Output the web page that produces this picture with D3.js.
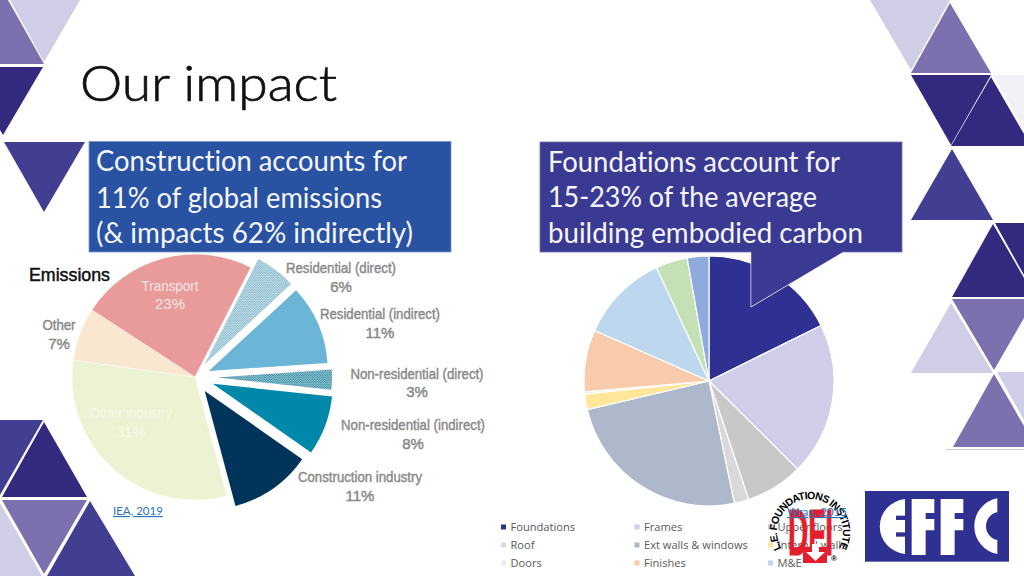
<!DOCTYPE html>
<html><head><meta charset="utf-8">
<script src="https://cdn.jsdelivr.net/npm/d3@7"></script>
<style>html,body{margin:0;padding:0;background:#fff;overflow:hidden}svg{display:block}text{font-variant-ligatures:none}</style>
</head><body><svg id="c" width="1024" height="576"></svg>
<script>
// ---- data ----
const emissionCategories = ["Residential (direct)","Residential (indirect)","Non-residential (direct)","Non-residential (indirect)","Construction industry","Other industry","Other","Transport"];
const emissionValues = [5.6,10.8,2.8,8,11.1,31.3,7,23.3];
const carbonCategories = ["Foundations","Frames","Upper floors","Roof","Ext walls & windows","Internal walls","Doors","Finishes","M&E","External works","Other"];
const carbonValues = [17.7,19.8,7.4,1.9,24.6,2.0,0.3,8.0,11.5,4.1,2.8];
const legendCategories = ["Foundations","Frames","Upper floors","Roof","Ext walls & windows","Internal walls","Doors","Finishes","M&E"];
const leftBoxLines = ["Construction accounts for","11% of global emissions","(& impacts 62% indirectly)"];
const rightBoxLines = ["Foundations account for","15-23% of the average","building embodied carbon"];

// ---- layout / style ----
const svg = d3.select("#c");
const defs = svg.append("defs");
function dots(id,bg,fg,size){
  const p = defs.append("pattern").attr("id",id).attr("width",size).attr("height",size).attr("patternUnits","userSpaceOnUse");
  p.append("rect").attr("width",size).attr("height",size).attr("fill",bg);
  p.append("circle").attr("cx",size/4).attr("cy",size/4).attr("r",size/3.8).attr("fill",fg);
  p.append("circle").attr("cx",size*3/4).attr("cy",size*3/4).attr("r",size/3.8).attr("fill",fg);
}
dots("hatchA","#cfe6ee","#6fa9c0",2.4);
dots("hatchB","#a8d3df","#0f6f8c",2.4);

const C = {light:"#d0cde6",med:"#7d70ae",dark:"#33297f",mid:"#423f92",pale:"#f1f1f8"};
const tris = [
 [C.med,[[0,0],[8,0],[44,64],[0,64]]],[C.light,[[10,0],[80,0],[44,62]]],
 [C.dark,[[0,67],[43,67],[3,135],[0,130]]],[C.mid,[[4,142],[85,142],[44,212]]],
 [C.mid,[[0,420],[43,420],[0,495]]],[C.dark,[[44,422],[2,497],[87,497]]],
 [C.med,[[2,500],[87,500],[44,574]]],[C.light,[[0,503],[42,576],[0,576]]],[C.mid,[[90,501],[47,576],[135,576]]],
 [C.light,[[870,0],[950,0],[911,70]]],[C.med,[[950,3],[911,73],[991,73]]],
 [C.dark,[[911,75],[991,75],[951,145]]],[C.dark,[[991,77],[951,146],[1024,146],[1024,134]]],[C.pale,[[993,75],[1024,75],[1024,130]]],
 [C.mid,[[952,149],[911,220],[993,220]]],[C.dark,[[993,224],[952,297],[1024,297],[1024,278]]],[C.dark,[[995,223],[1024,223],[1024,275]]],
 [C.med,[[952,299],[1024,299],[1024,318],[994,370]]],[C.light,[[951,303],[911,373],[993,373]]],
 [C.light,[[997,372],[1024,372],[1024,420]]],[C.med,[[994,374],[953,447],[1024,447],[1024,426]]]
];
svg.append("g").selectAll("polygon").data(tris).join("polygon")
  .attr("points",d=>d[1].join(" ")).attr("fill",d=>d[0]);
svg.append("line").attr("x1",946).attr("x2",1024).attr("y1",449.5).attr("y2",449.5).attr("stroke","#c9c9c9");

svg.append("text").attr("x",80).attr("y",101).attr("font-family","Lato").attr("font-weight",300)
  .attr("font-size",50).attr("fill","#111").attr("stroke","#111").attr("stroke-width",.7).attr("textLength",257).attr("lengthAdjust","spacingAndGlyphs").text("Our impact");

// left pie
const deg = Math.PI/180;
const emissionColors = ["url(#hatchA)","#6bb6d6","url(#hatchB)","#0088ab","#01345b","#ecf3d2","#f9e8cf","#e99a9a"];
const explode = [16,15,22,19,17,0,0,0];
const radii = [118,119,115,120,119,123,123,123];
const pieL = d3.pie().sort(null).startAngle(27*deg).endAngle(387*deg)(emissionValues);
svg.append("g").attr("transform","translate(195,377)").selectAll("path").data(pieL).join("path")
  .attr("d",(d,i)=>d3.arc().innerRadius(0).outerRadius(radii[i])(d))
  .attr("fill",(d,i)=>emissionColors[i])
  .attr("stroke",(d,i)=>i>4?"#fbfbf4":"none").attr("stroke-width",.6)
  .attr("transform",(d,i)=>{const m=(d.startAngle+d.endAngle)/2;return `translate(${explode[i]*Math.sin(m)},${-explode[i]*Math.cos(m)})`;});

const labelPos = [[341,273,292],[380,319,338],[417,379,397],[413,430,449],[360,482,501],[131,418,437],[59,330,349],[170,291,309]];
const labelWidth = [110,120,133,144,124,82,33,57];
const labelFill = i=> i==7?"#f7e6e4": i==5?"#f6f9e6":"#8a8a8a";
const labels = svg.append("g").attr("font-family","Liberation Sans").attr("font-size",15).attr("text-anchor","middle");
emissionCategories.forEach((c,i)=>{
  const sw = (i==7||i==5)?0:0.45;
  labels.append("text").attr("x",labelPos[i][0]).attr("y",labelPos[i][1]).attr("fill",labelFill(i)).attr("stroke",labelFill(i)).attr("stroke-width",sw)
    .attr("textLength",labelWidth[i]).attr("lengthAdjust","spacingAndGlyphs").text(c);
  labels.append("text").attr("x",labelPos[i][0]).attr("y",labelPos[i][2]).attr("fill",labelFill(i)).attr("stroke",labelFill(i)).attr("stroke-width",sw).text(Math.round(emissionValues[i])+"%");
});
svg.append("text").attr("x",29).attr("y",281).attr("font-family","Liberation Sans").attr("font-size",18.5).attr("fill","#111").attr("stroke","#111").attr("stroke-width",.5)
  .attr("textLength",81).attr("lengthAdjust","spacingAndGlyphs").text("Emissions");

svg.append("text").attr("x",113).attr("y",515).attr("font-family","Lato").attr("font-size",11.5).attr("fill","#2a75bb").attr("text-decoration","underline").text("IEA, 2019");

// right pie
const carbonColors = ["#2e3192","#d0cde8","#c8c8c8","#d9d9d9","#adb9ca","#ffe699","#ededed","#f8cbad","#bdd7ee","#c5e0b4","#8faadc"];
const pieR = d3.pie().sort(null)(carbonValues);
svg.append("g").attr("transform","translate(709,381)").selectAll("path").data(pieR).join("path")
  .attr("d",d3.arc().innerRadius(0).outerRadius(125))
  .attr("fill",(d,i)=>carbonColors[i]).attr("stroke","#fff").attr("stroke-width",1.2);

// text boxes
svg.append("polygon").attr("points","751,250 751,307 843,252").attr("fill","#3b3a93").attr("stroke","#e4e4f2").attr("stroke-width",1);
function box(x,y,w,h,fill,stroke,lines,tx,ys,lens){
  svg.append("rect").attr("x",x).attr("y",y).attr("width",w).attr("height",h).attr("fill",fill).attr("stroke",stroke).attr("stroke-width",.8);
  lines.forEach((l,i)=>svg.append("text").attr("x",tx).attr("y",ys[i]).attr("font-family","Lato").attr("font-size",28).attr("fill","#f4f6fc")
    .attr("textLength",lens[i]).attr("lengthAdjust","spacingAndGlyphs").text(l));
}
box(89,141.5,362,110.5,"#2952a3","#7d96cc",leftBoxLines,96,[171,208,243],[311,286,317]);
box(540,142,362,110,"#3b3a93","#6f6fb5",rightBoxLines,548,[172,207,243],[292,269,315]);
svg.append("polygon").attr("points","751.5,251 751.5,306 842,252.5 842,251").attr("fill","#3b3a93");

// legend
const legendRow = d3.scalePoint().domain([0,1,2]).range([527,563]);
const legendCol = d3.scalePoint().domain([0,1,2]).range([501,768]);
const lg = svg.append("g").attr("font-family","Open Sans").attr("font-size",11.1).attr("fill","#595959");
legendCategories.forEach((c,i)=>{
  const r=legendRow(Math.floor(i/3)), x=legendCol(i%3);
  lg.append("rect").attr("x",x).attr("y",r-2.5).attr("width",5).attr("height",5).attr("fill",carbonColors[carbonCategories.indexOf(c)]);
  lg.append("text").attr("x",x+9.5).attr("y",r+4).text(c);
});

// DFI logo
const dfi = svg.append("g");
const cx=810, cy=532, rr=33, a0=120*deg;
defs.append("path").attr("id","dfiArc").attr("d",`M ${cx-rr*Math.sin(a0)} ${cy-rr*Math.cos(a0)} A ${rr} ${rr} 0 1 1 ${cx+rr*Math.sin(a0)} ${cy-rr*Math.cos(a0)}`);
dfi.append("text").attr("font-family","Liberation Sans").attr("font-weight",700).attr("font-size",10.5).attr("fill","#000")
  .append("textPath").attr("href","#dfiArc").attr("textLength",137).attr("lengthAdjust","spacing").text("L.E. FOUNDATIONS INSTITUTE");
dfi.append("text").attr("x",788).attr("y",555).attr("font-family","Liberation Sans").attr("font-weight",700).attr("font-size",65)
  .attr("fill","#e31e2d").attr("stroke","#e31e2d").attr("stroke-width",1).attr("textLength",45).attr("lengthAdjust","spacingAndGlyphs").text("DFI");
dfi.append("rect").attr("x",803).attr("y",547).attr("width",24).attr("height",16).attr("fill","#e31e2d");
dfi.append("polygon").attr("points","812,544 819,544 819,552 825,552 815.5,561 806,552 812,552").attr("fill","#fff");
dfi.append("text").attr("x",831).attr("y",561).attr("font-family","Liberation Sans").attr("font-size",8).attr("font-weight",700).attr("fill","#000").text("®");
svg.append("text").attr("x",787).attr("y",516).attr("font-family","Lato").attr("font-size",11.5).attr("fill","#2a75bb").attr("text-decoration","underline").text("Wrap, 2015");

// EFFC logo
const ef = svg.append("g").attr("transform","translate(860,485) scale(0.3333)");
ef.append("rect").attr("x",15).attr("y",18).attr("width",432).attr("height",212).attr("fill","#2e3192");
const W="#fff",B="#2e3192";
ef.append("path").attr("d","M135 42 A85 83 0 0 0 135 207 Z").attr("fill",W);
ef.append("rect").attr("x",108).attr("y",92).attr("width",28).attr("height",13).attr("fill",B);
ef.append("rect").attr("x",108).attr("y",142).attr("width",28).attr("height",13).attr("fill",B);
[155,242].forEach(x=>{
  ef.append("path").attr("d",`M${x} 42 H${x+68} V84 H${x+42} V102 H${x+68} V136 H${x+42} V210 H${x} Z`).attr("fill",W);
});
ef.append("path").attr("d","M412 40 A85 85 0 0 0 412 207 V165 A40 42 0 0 1 412 82 Z").attr("fill",W);
</script></body></html>
